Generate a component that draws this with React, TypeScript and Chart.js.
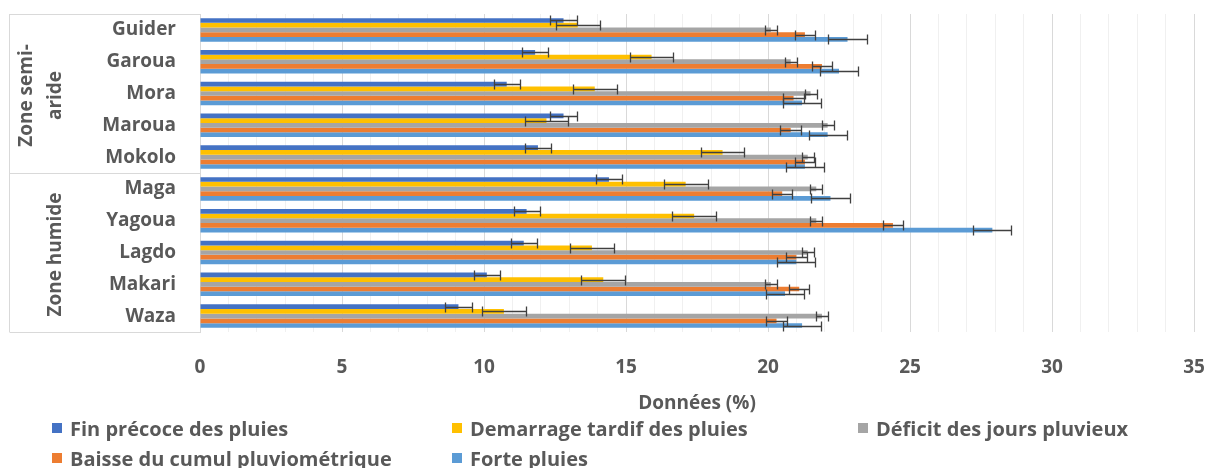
import React, { useEffect, useRef } from "react";
import { Chart, registerables } from "chart.js";

Chart.register(...registerables);

// ---- Data ----
const categories = ["Guider", "Garoua", "Mora", "Maroua", "Mokolo", "Maga", "Yagoua", "Lagdo", "Makari", "Waza"];

const seriesNames = [
  "Fin précoce des pluies",
  "Demarrage tardif des pluies",
  "Déficit des jours pluvieux",
  "Baisse du cumul pluviométrique",
  "Forte pluies",
];

const finPrecoce = [12.8, 11.8, 10.8, 12.8, 11.9, 14.4, 11.5, 11.4, 10.1, 9.1];
const demarrageTardif = [13.3, 15.9, 13.9, 12.2, 18.4, 17.1, 17.4, 13.8, 14.2, 10.7];
const deficitJours = [20.1, 20.8, 21.5, 22.1, 21.4, 21.7, 21.7, 21.4, 20.1, 21.9];
const baisseCumul = [21.3, 21.9, 20.9, 20.8, 21.3, 20.5, 24.4, 21.0, 21.1, 20.3];
const fortePluies = [22.8, 22.5, 21.2, 22.1, 21.3, 22.2, 27.9, 21.0, 20.6, 21.2];

const errFinPrecoce = [0.46, 0.46, 0.46, 0.46, 0.46, 0.46, 0.46, 0.46, 0.46, 0.46];
const errDemarrage = [0.77, 0.77, 0.77, 0.77, 0.77, 0.77, 0.77, 0.77, 0.77, 0.77];
const errDeficit = [0.21, 0.21, 0.21, 0.21, 0.21, 0.21, 0.21, 0.21, 0.21, 0.21];
const errBaisse = [0.36, 0.36, 0.36, 0.36, 0.36, 0.36, 0.36, 0.36, 0.36, 0.36];
const errForte = [0.67, 0.67, 0.67, 0.67, 0.67, 0.67, 0.67, 0.67, 0.67, 0.67];

const zoneLabels = [["Zone semi-", "aride"], ["Zone humide"]];
const zoneStart = [0, 5];
const zoneEnd = [4, 9];

const xTickValues = [0, 5, 10, 15, 20, 25, 30, 35];
const axisTitle = "Données (%)";

// ---- Styles ----
const seriesColors = ["#4472C4", "#FFC000", "#A5A5A5", "#ED7D31", "#5B9BD5"];
const FONT = "'Open Sans', 'Noto Sans', sans-serif";
const TEXT = "#595959";
const LINE = "#D9D9D9";

export default function App() {
  const ref = useRef<HTMLCanvasElement>(null);

  useEffect(() => {
    if (!ref.current) return;
    const values = [finPrecoce, demarrageTardif, deficitJours, baisseCumul, fortePluies];
    const errors = [errFinPrecoce, errDemarrage, errDeficit, errBaisse, errForte];

    const errorBars = {
      id: "errorBars",
      afterDatasetsDraw(chart: any) {
        const ctx = chart.ctx;
        const xs = chart.scales.x;
        ctx.save();
        ctx.strokeStyle = "#404040";
        ctx.lineWidth = 1.3;
        chart.data.datasets.forEach((_ds: any, i: number) => {
          const meta = chart.getDatasetMeta(i);
          meta.data.forEach((bar: any, j: number) => {
            const v = values[i][j];
            const e = errors[i][j];
            const x1 = Math.round(xs.getPixelForValue(v - e)) + 0.5;
            const x2 = Math.round(xs.getPixelForValue(v + e)) + 0.5;
            const y = Math.round(bar.y) + 0.5;
            ctx.beginPath();
            ctx.moveTo(x1, y);
            ctx.lineTo(x2, y);
            ctx.moveTo(x1, y - 5);
            ctx.lineTo(x1, y + 5);
            ctx.moveTo(x2, y - 5);
            ctx.lineTo(x2, y + 5);
            ctx.stroke();
          });
        });
        ctx.restore();
      },
    };

    const zones = {
      id: "zones",
      afterDraw(chart: any) {
        const ctx = chart.ctx;
        const { top, bottom, left } = chart.chartArea;
        const ys = chart.scales.y;
        const half = (ys.getPixelForValue(1) - ys.getPixelForValue(0)) / 2;
        const boxLeft = 9.5;
        ctx.save();
        ctx.strokeStyle = LINE;
        ctx.lineWidth = 1;
        ctx.beginPath();
        ctx.moveTo(boxLeft, Math.round(top) + 0.5);
        ctx.lineTo(left, Math.round(top) + 0.5);
        ctx.moveTo(boxLeft, Math.round(bottom) + 0.5);
        ctx.lineTo(left, Math.round(bottom) + 0.5);
        ctx.moveTo(boxLeft, top);
        ctx.lineTo(boxLeft, bottom);
        for (let z = 1; z < zoneStart.length; z++) {
          const yy = Math.round(ys.getPixelForValue(zoneStart[z]) - half) + 0.5;
          ctx.moveTo(boxLeft, yy);
          ctx.lineTo(left, yy);
        }
        ctx.stroke();

        ctx.fillStyle = TEXT;
        ctx.font = `bold 19px ${FONT}`;
        ctx.textAlign = "center";
        ctx.textBaseline = "middle";
        zoneLabels.forEach((lines, z) => {
          const y0 = ys.getPixelForValue(zoneStart[z]) - half;
          const y1 = ys.getPixelForValue(zoneEnd[z]) + half;
          const yc = (y0 + y1) / 2 + 2;
          lines.forEach((line, k) => {
            const xc = 56 - 29 * (lines.length - 1 - k);
            ctx.save();
            ctx.translate(xc, yc);
            ctx.rotate(-Math.PI / 2);
            ctx.fillText(line, 0, 0);
            ctx.restore();
          });
        });
        ctx.restore();
      },
    };

    const chart = new Chart(ref.current, {
      type: "bar",
      data: {
        labels: categories,
        datasets: seriesNames.map((name, i) => ({
          label: name,
          data: values[i],
          backgroundColor: seriesColors[i],
          borderWidth: 0,
          categoryPercentage: 0.74,
          barPercentage: 1.0,
        })),
      },
      options: {
        indexAxis: "y",
        responsive: true,
        maintainAspectRatio: false,
        animation: false,
        events: [],
        layout: { padding: { top: 14, right: 15, left: 0, bottom: 0 } },
        scales: {
          x: {
            min: 0,
            max: 35,
            ticks: {
              stepSize: 1,
              autoSkip: false,
              maxRotation: 0,
              color: TEXT,
              font: { family: FONT, size: 19, weight: "bold" },
              padding: 24,
              callback: (v: any) => (xTickValues.includes(Number(v)) ? String(v) : ""),
            },
            grid: {
              drawTicks: false,
              lineWidth: 1,
              color: (c: any) => (c.tick && c.tick.value % 5 === 0 ? LINE : "#F0F0F0"),
            },
            border: { display: false },
            title: {
              display: true,
              text: axisTitle,
              color: TEXT,
              font: { family: FONT, size: 19, weight: "bold" },
              padding: { top: 0, bottom: 53 },
            },
            afterFit: (s: any) => {
              s.height = 136;
              s.paddingLeft = 0;
              s.paddingRight = 0;
            },
          },
          y: {
            ticks: {
              color: TEXT,
              font: { family: FONT, size: 19, weight: "bold" },
              padding: 24,
            },
            grid: { display: false, drawTicks: false },
            border: { display: true, color: LINE },
            afterFit: (s: any) => {
              s.width = 200;
              s.paddingTop = 0;
              s.paddingBottom = 0;
            },
          },
        },
        plugins: {
          legend: { display: false },
          tooltip: { enabled: false },
        },
      },
      plugins: [errorBars, zones],
    } as any);
    return () => chart.destroy();
  }, []);

  const legendLeft = [52, 452, 858];
  const legendTop = [428, 458];

  return (
    <div style={{ position: "fixed", left: 0, top: 0, width: 1209, height: 468, background: "#fff", overflow: "hidden" }}>
      <canvas ref={ref} />
      {seriesNames.map((name, i) => {
        const col = i % 3;
        const row = Math.floor(i / 3);
        return (
          <div
            key={name}
            style={{
              position: "absolute",
              left: legendLeft[col],
              top: legendTop[row] - 12,
              height: 24,
              display: "flex",
              alignItems: "center",
              fontFamily: FONT,
              fontWeight: 700,
              fontSize: 20,
              color: TEXT,
              whiteSpace: "nowrap",
            }}
          >
            <span style={{ display: "inline-block", width: 10, height: 10, background: seriesColors[i], marginRight: 8 }} />
            {name}
          </div>
        );
      })}
    </div>
  );
}
